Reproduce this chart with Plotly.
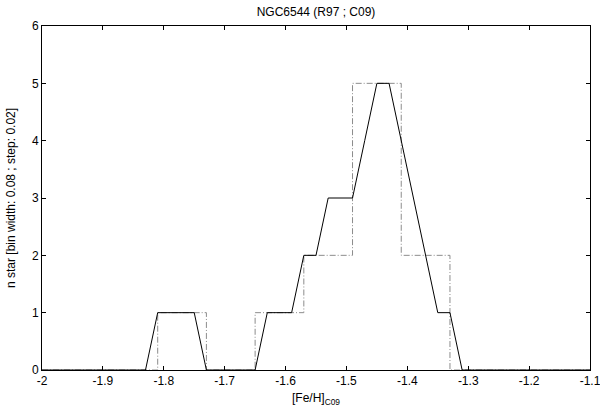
import plotly.graph_objects as go

# sliding histogram (bin width 0.08, step 0.02)
slide_x = [-2.0, -1.99, -1.97, -1.95, -1.93, -1.91, -1.89, -1.87, -1.85, -1.83, -1.81, -1.79, -1.77, -1.75,
           -1.73, -1.71, -1.69, -1.67, -1.65, -1.63, -1.61, -1.59, -1.57, -1.55, -1.53,
           -1.51, -1.49, -1.47, -1.45, -1.43, -1.41, -1.39, -1.37, -1.35, -1.33, -1.31,
           -1.29, -1.27, -1.25, -1.23, -1.21, -1.19, -1.17, -1.15, -1.13, -1.11, -1.1]
slide_y = [0, 0, 0, 0, 0, 0, 0, 0, 0, 0, 1, 1, 1, 1,
           0, 0, 0, 0, 0, 1, 1, 1, 2, 2, 3,
           3, 3, 4, 5, 5, 4, 3, 2, 1, 1, 0,
           0, 0, 0, 0, 0, 0, 0, 0, 0, 0, 0]

# classic histogram (bin width 0.08)
hist_edges = [-2.0, -1.81, -1.73, -1.65, -1.57, -1.49, -1.41, -1.33, -1.1]
hist_counts = [0, 1, 0, 1, 2, 5, 2, 0, 0]

x_ticks = [-2, -1.9, -1.8, -1.7, -1.6, -1.5, -1.4, -1.3, -1.2, -1.1]
y_ticks = [0, 1, 2, 3, 4, 5, 6]

FONT = "Liberation Sans, Arial, Helvetica"

fig = go.Figure()
fig.add_trace(go.Scatter(x=hist_edges, y=hist_counts, mode="lines", line_shape="hv",
                         line=dict(color="#8c8c8c", width=1, dash="6px,2px,1px,2px"), showlegend=False))
fig.add_trace(go.Scatter(x=slide_x, y=slide_y, mode="lines",
                         line=dict(color="black", width=1), showlegend=False))

axis_common = dict(showgrid=False, zeroline=False, showline=True, linecolor="black", linewidth=1,
                   mirror="allticks", ticks="inside", ticklen=4, tickcolor="black", automargin=False,
                   ticklabeloverflow="allow",
                   tickfont=dict(family=FONT, size=12, color="black"))

fig.update_layout(
    template="none",
    width=600, height=407,
    margin=dict(l=42, r=10, t=26, b=37, autoexpand=False),
    paper_bgcolor="white", plot_bgcolor="white",
    title=dict(text="NGC6544 (R97 ; C09)", xref="paper", x=0.5, xanchor="center",
               y=1 - 12 / 407, yanchor="middle",
               font=dict(family=FONT, size=12, color="black")),
    xaxis=dict(range=[-2, -1.1], tickvals=x_ticks, ticktext=[f"{v:g}" for v in x_ticks],
               title=dict(text="[Fe/H]<sub>C09</sub>",
                          font=dict(family=FONT, size=12, color="black")),
               **axis_common),
    yaxis=dict(range=[0, 6], tickvals=y_ticks,
               title=dict(text="n star [bin width: 0.08 ; step: 0.02]", standoff=13,
                          font=dict(family=FONT, size=12, color="black")),
               **axis_common),
)

# pin the 600x407 figure to the window's top-left corner (no default body margin, no scrollbars)
post = (
    "document.documentElement.style.margin='0';"
    "document.body.style.margin='0';"
    "document.documentElement.style.overflow='hidden';"
    "document.body.style.overflow='hidden';"
    "var gd=document.getElementById('{plot_id}');"
    "gd.style.position='absolute';gd.style.left='0px';gd.style.top='0px';"
)
fig.write_html("out.html", post_script=post, config={"displayModeBar": False})
